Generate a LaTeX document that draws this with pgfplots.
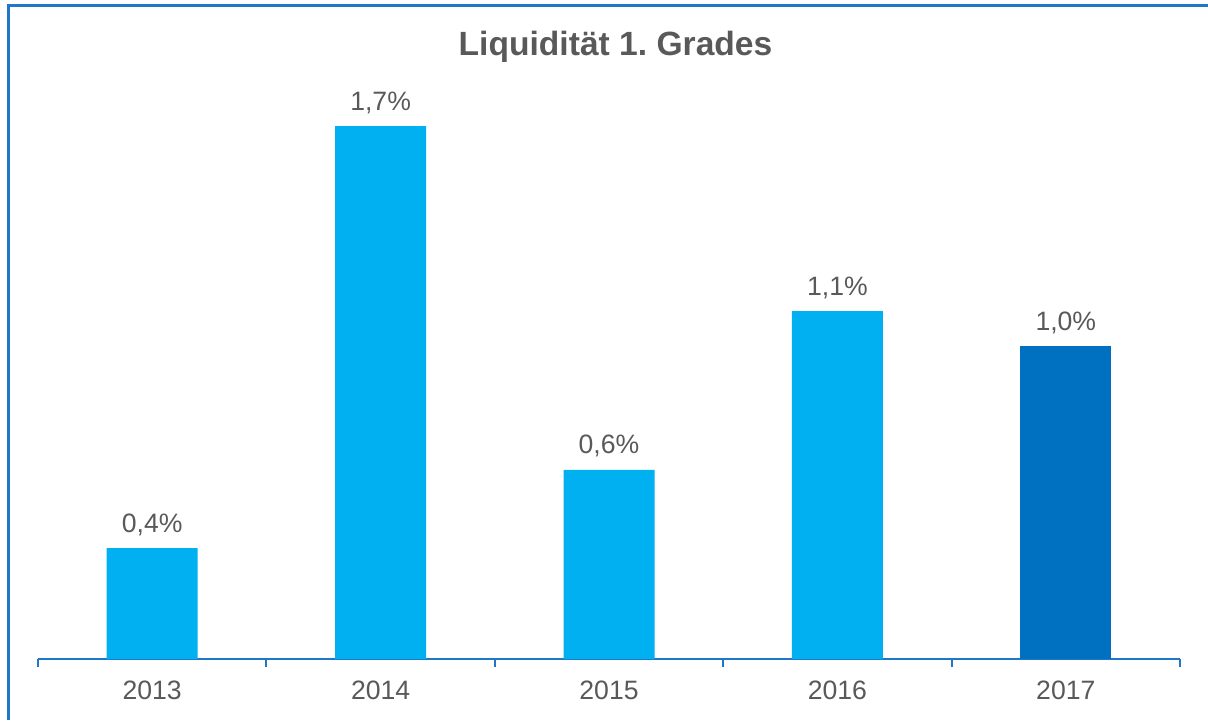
\documentclass[border=0pt]{standalone}
\usepackage{pgfplots}
\pgfplotsset{compat=1.18}
\usepackage{fontspec}
\setmainfont{Liberation Sans}
\definecolor{lightbar}{HTML}{00B0F0}
\definecolor{darkbar}{HTML}{0070C0}
\definecolor{axisblue}{HTML}{1F77C8}
\definecolor{txtgray}{HTML}{595959}
\frenchspacing
\begin{document}
\begin{tikzpicture}
\useasboundingbox (0pt,0pt) rectangle (604pt,360pt);
\draw[axisblue, line width=1.2pt] (4.25pt,0pt) -- (4.25pt,357.25pt) -- (604pt,357.25pt);
\node[font=\fontsize{16.8pt}{20pt}\selectfont\bfseries, text=txtgray] at (307.75pt,336.5pt) {Liquidität 1.\ Grades};
\begin{axis}[
  at={(19pt,30.5pt)}, anchor=south west,
  scale only axis,
  width=571pt, height=279.5pt,
  xmin=-0.5, xmax=4.5, ymin=0, ymax=1.783,
  axis y line=none,
  axis x line*=bottom,
  x axis line style={axisblue, line width=1pt, -},
  xtick={0,1,2,3,4},
  xticklabels={2013,2014,2015,2016,2017},
  major x tick style={draw=none},
  minor xtick={-0.5,0.5,1.5,2.5,3.5,4.5},
  minor x tick style={axisblue, line width=1pt},
  minor tick length=4pt,
  tick align=outside,
  xticklabel style={font=\fontsize{13.3pt}{16pt}\selectfont, text=txtgray, anchor=base, yshift=-16pt},
  typeset ticklabels with strut,
  clip=false,
  nodes near coords,
  point meta=explicit symbolic,
  every node near coord/.append style={font=\fontsize{13.3pt}{16pt}\selectfont, text=txtgray, anchor=base, yshift=8pt},
]
\addplot[ybar, bar width=45.5pt, bar shift=0pt, fill=lightbar, draw=none] table[meta=lab] {
x y lab
0 0.354 0,4\%
1 1.700 1,7\%
2 0.603 0,6\%
3 1.110 1,1\%
};
\addplot[ybar, bar width=45.5pt, bar shift=0pt, fill=darkbar, draw=none] table[meta=lab] {
x y lab
4 0.998 1,0\%
};
\end{axis}
\end{tikzpicture}
\end{document}
